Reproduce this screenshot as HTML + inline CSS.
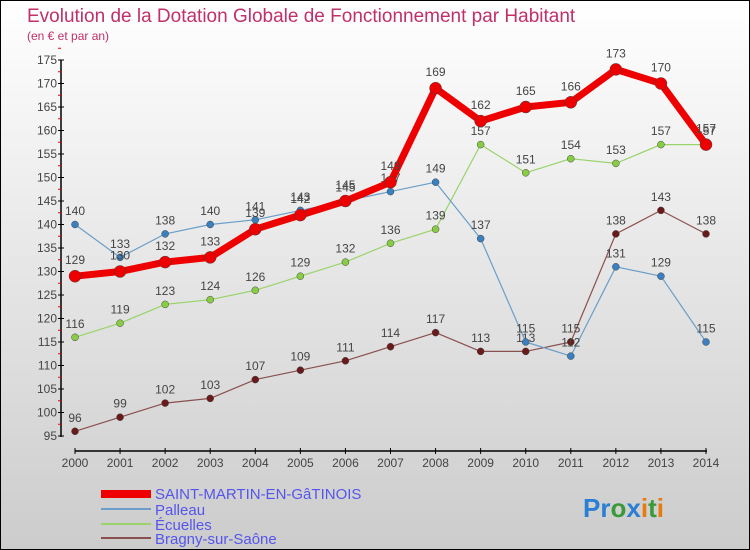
<!DOCTYPE html>
<html><head><meta charset="utf-8"><style>
body{margin:0}
#wrap{width:748px;height:548px;border:1px solid #000;background:linear-gradient(#fff,#ccc);position:relative;font-family:"Liberation Sans",sans-serif;overflow:hidden}
</style></head><body>
<div id="wrap">
<svg id="chart" width="748" height="548">
<text x="26" y="21" font-size="19" fill="#c0306a">Evolution de la Dotation Globale de Fonctionnement par Habitant</text>
<text x="26" y="39" font-size="12" fill="#c0306a">(en € et par an)</text>
<g id="axes"></g><g id="series"></g>
<g>
<rect x="100" y="489" width="50" height="8" fill="#e00"/>
<text x="154" y="498" font-size="15" fill="#5555ee">SAINT-MARTIN-EN-GâTINOIS</text>
<rect x="100" y="507" width="50" height="2" fill="#6a9ec8"/>
<text x="154" y="514" font-size="15" fill="#5555ee">Palleau</text>
<rect x="100" y="522" width="50" height="2" fill="#99d36a"/>
<text x="154" y="529" font-size="15" fill="#5555ee">Écuelles</text>
<rect x="100" y="536" width="50" height="2" fill="#8a5050"/>
<text x="154" y="543" font-size="15" fill="#5555ee">Bragny-sur-Saône</text>
</g>
<text x="582" y="516" font-size="26" font-weight="bold"><tspan fill="#2a7fd4">Pr</tspan><tspan fill="#3a9a3a">o</tspan><tspan fill="#2a7fd4">x</tspan><tspan fill="#e87a10">i</tspan><tspan fill="#3a9a3a">t</tspan><tspan fill="#e87a10">i</tspan></text>
</svg>
</div>
<script>
const years=[2000,2001,2002,2003,2004,2005,2006,2007,2008,2009,2010,2011,2012,2013,2014];
const saintMartin=[129,130,132,133,139,142,145,149,169,162,165,166,173,170,157];
const palleau=[140,133,138,140,141,143,145,147,149,137,115,112,131,129,115];
const ecuelles=[116,119,123,124,126,129,132,136,139,157,151,154,153,157,157];
const bragny=[96,99,102,103,107,109,111,114,117,113,113,115,138,143,138];
const yTicks=[95,100,105,110,115,120,125,130,135,140,145,150,155,160,165,170,175];
const NS="http://www.w3.org/2000/svg";
const x=i=>74+i*(705-74)/(years.length-1);
const y=v=>435-(v-95)*(435-59)/80;
function mk(t,a,p){const e=document.createElementNS(NS,t);for(const k in a)e.setAttribute(k,a[k]);p.appendChild(e);return e;}
const ax=document.getElementById('axes');
const yl=mk('line',{x1:60,y1:59,x2:60,y2:436,stroke:'#000','stroke-width':1.5},ax);


yTicks.forEach(v=>{
 mk('line',{x1:57,y1:y(v),x2:63,y2:y(v),stroke:'#000'},ax);
 mk('line',{x1:57,y1:y(v+2.5),x2:60,y2:y(v+2.5),stroke:'#e00'},ax);
 const t=mk('text',{x:56,y:y(v)+4,'font-size':12,fill:'#444','text-anchor':'end'},ax);
 t.textContent=v;
 
 
});
const xl=mk('line',{x1:74,y1:450,x2:706,y2:450,stroke:'#000','stroke-width':1.5},ax);


years.forEach((yr,i)=>{
 mk('line',{x1:x(i),y1:447,x2:x(i),y2:453,stroke:'#000'},ax);
 const t=mk('text',{x:x(i),y:466,'font-size':12,fill:'#444','text-anchor':'middle'},ax);
 t.textContent=yr;
 
 
});
const sg=document.getElementById('series');
function draw(data,name,color,lw,r,dot){
 const g=mk('g',{},sg);
 
 
 mk('polyline',{points:data.map((v,i)=>x(i)+','+y(v)).join(' '),fill:'none',stroke:color,'stroke-width':lw,'stroke-linejoin':'round'},g);
 data.forEach((v,i)=>{
  const c=mk('circle',{cx:x(i),cy:y(v),r:r,fill:dot,stroke:'#444','stroke-width':0.5},g);
  
  
  const t=mk('text',{x:x(i),y:y(v)-r-6,'font-size':12,fill:'#444','text-anchor':'middle'},g);
  t.textContent=v;
  
  
 });
}
draw(bragny,'bragny','#8a5050',1.2,3.5,'#6a1a1a');
draw(ecuelles,'ecuelles','#99d36a',1.2,3.5,'#88cc44');
draw(palleau,'palleau','#6a9ec8',1.2,3.5,'#3a80c0');
draw(saintMartin,'saint-martin','#e00',7,6,'#e00');
</script>
</body></html>
